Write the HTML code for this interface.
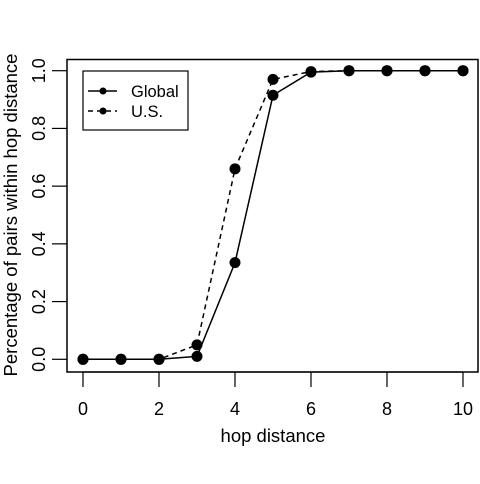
<!DOCTYPE html>
<html><head><meta charset="utf-8"><style>
body{margin:0;background:#fff;}
text{font-family:"Liberation Sans",sans-serif;fill:#000;}
</style></head><body>
<svg id="chart" width="480" height="479">
<rect x="67" y="59.5" width="411" height="312.5" fill="none" stroke="#000" stroke-width="1.5"/>
<g id="xaxis"></g>
<g id="yaxis"></g>
<text x="273" y="442" font-size="18.5" text-anchor="middle">hop distance</text>
<text transform="translate(17,215) rotate(-90)" font-size="18.5" text-anchor="middle">Percentage of pairs within hop distance</text>
<g id="series"></g>
<g>
<rect x="83" y="71" width="105" height="59" fill="#fff" stroke="#000" stroke-width="1.2"/>
<g>
<line x1="88" y1="91" x2="117" y2="91" stroke="#000" stroke-width="1.5"/>
<circle cx="103" cy="91" r="3.5"/>
<text x="131" y="97" font-size="16.5">Global</text></g>
<g>
<line x1="88" y1="111" x2="117" y2="111" stroke="#000" stroke-width="1.5" stroke-dasharray="5,4"/>
<circle cx="103" cy="111" r="3.5"/>
<text x="131" y="117" font-size="16.5">U.S.</text></g>
</g>
</svg>
<script>
const hops=[0,1,2,3,4,5,6,7,8,9,10];
const globalVals=[0,0,0,0.01,0.335,0.915,0.995,1,1,1,1];
const usVals=[0,0,0,0.05,0.66,0.97,0.997,1,1,1,1];
const xTicks=[0,2,4,6,8,10];
const yTicks=[0,0.2,0.4,0.6,0.8,1.0];
const yTickLabels=["0.0","0.2","0.4","0.6","0.8","1.0"];
const NS="http://www.w3.org/2000/svg";
const sx=v=>83+v*38;
const sy=v=>359.3-v*288.6;
function mk(tag,attrs,parent){const e=document.createElementNS(NS,tag);for(const k in attrs)e.setAttribute(k,attrs[k]);parent.appendChild(e);return e;}
const xa=document.getElementById('xaxis');
mk('line',{x1:sx(0),x2:sx(10),y1:372,y2:372,stroke:'#000','stroke-width':1.2},xa);
xTicks.forEach(t=>{
 const l=mk('line',{x1:sx(t),x2:sx(t),y1:372,y2:387,stroke:'#000','stroke-width':1.2},xa);
 
 
 const tx=mk('text',{x:sx(t),y:415,'font-size':18,'text-anchor':'middle'},xa);
 tx.textContent=t;
 
 
});
const ya=document.getElementById('yaxis');
yTicks.forEach((t,i)=>{
 const l=mk('line',{x1:52,x2:67,y1:sy(t),y2:sy(t),stroke:'#000','stroke-width':1.2},ya);
 
 
 const tx=mk('text',{transform:`translate(45,${sy(t)}) rotate(-90)`,'font-size':18,'text-anchor':'middle'},ya);
 tx.textContent=yTickLabels[i];
 
 
});
const sg=document.getElementById('series');
function draw(vals,dash,name){
 const p=mk('polyline',{points:hops.map((h,i)=>sx(h)+','+sy(vals[i])).join(' '),fill:'none',stroke:'#000','stroke-width':1.5},sg);
 if(dash)p.setAttribute('stroke-dasharray','5,4');
 
 
 hops.forEach((h,i)=>{
  const c=mk('circle',{cx:sx(h),cy:sy(vals[i]),r:5.5,fill:'#000'},sg);
  
  
 });
}
draw(usVals,true,'us');
draw(globalVals,false,'global');
</script>
</body></html>
